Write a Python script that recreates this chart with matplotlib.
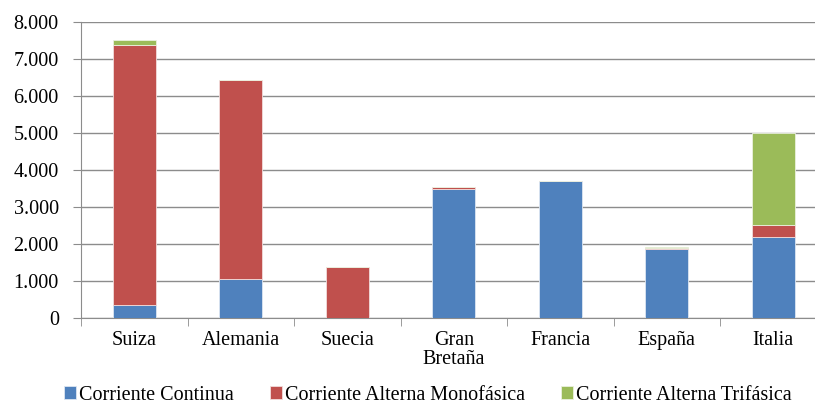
import numpy as np
import matplotlib.pyplot as plt
from matplotlib.ticker import FuncFormatter, FixedLocator

plt.rcParams['font.family'] = ['Liberation Serif', 'DejaVu Serif']

paises = ['Suiza', 'Alemania', 'Suecia', 'Gran\nBretaña', 'Francia', 'España', 'Italia']
continua = [360, 1060, 0, 3490, 3720, 1870, 2190]
monofasica = [7030, 5390, 1380, 50, 0, 40, 340]
trifasica = [130, 0, 0, 0, 0, 20, 2470]
series_names = ['Corriente Continua', 'Corriente Alterna Monofásica', 'Corriente Alterna Trifásica']
colores = ['#4F81BD', '#C0504D', '#9BBB59']

fs = 14.5

fig = plt.figure(figsize=(8.15, 4.04), dpi=100)
ax = fig.add_axes([81/815, 85.7/404, 745.5/815, 296/404])

x = np.arange(len(paises))
w = 0.40
c = np.array(continua)
m = np.array(monofasica)
t = np.array(trifasica)
ax.bar(x, c, w, color=colores[0], edgecolor='#dce6f2', linewidth=0.6, label=series_names[0], zorder=3)
ax.bar(x, m, w, bottom=c, color=colores[1], edgecolor='#f2dcdb', linewidth=0.6, label=series_names[1], zorder=3)
ax.bar(x, t, w, bottom=c + m, color=colores[2], edgecolor='#ebf1de', linewidth=0.6, label=series_names[2], zorder=3)

ax.set_xlim(-0.5, len(paises) - 0.5)
ax.set_ylim(0, 8000)
ax.set_yticks(np.arange(0, 8001, 1000))
ax.yaxis.set_major_formatter(FuncFormatter(lambda v, p: f'{int(v):,}'.replace(',', '.')))
ax.grid(axis='y', color='#8c8c8c', linewidth=1.0, zorder=0)

ax.set_xticks(x)
ax.set_xticklabels(paises, fontsize=fs, linespacing=1.0)
ax.xaxis.set_minor_locator(FixedLocator(np.arange(-0.5, len(paises), 1.0)))
ax.tick_params(axis='x', which='major', length=0, pad=9)
ax.tick_params(axis='x', which='minor', length=6, color='#8c8c8c', direction='out')
ax.tick_params(axis='y', length=6, color='#8c8c8c', labelsize=fs, pad=10)

for s in ['top', 'right']:
    ax.spines[s].set_visible(False)
ax.spines['left'].set_color('#8c8c8c')
ax.spines['bottom'].set_color('#8c8c8c')

fig.legend(loc='center', bbox_to_anchor=(428/815, 1 - 395/404), ncol=3, frameon=False,
           fontsize=fs, handlelength=0.6, handleheight=0.6, handletextpad=0.15, columnspacing=1.8)

fig.savefig('out.png', dpi=100)
